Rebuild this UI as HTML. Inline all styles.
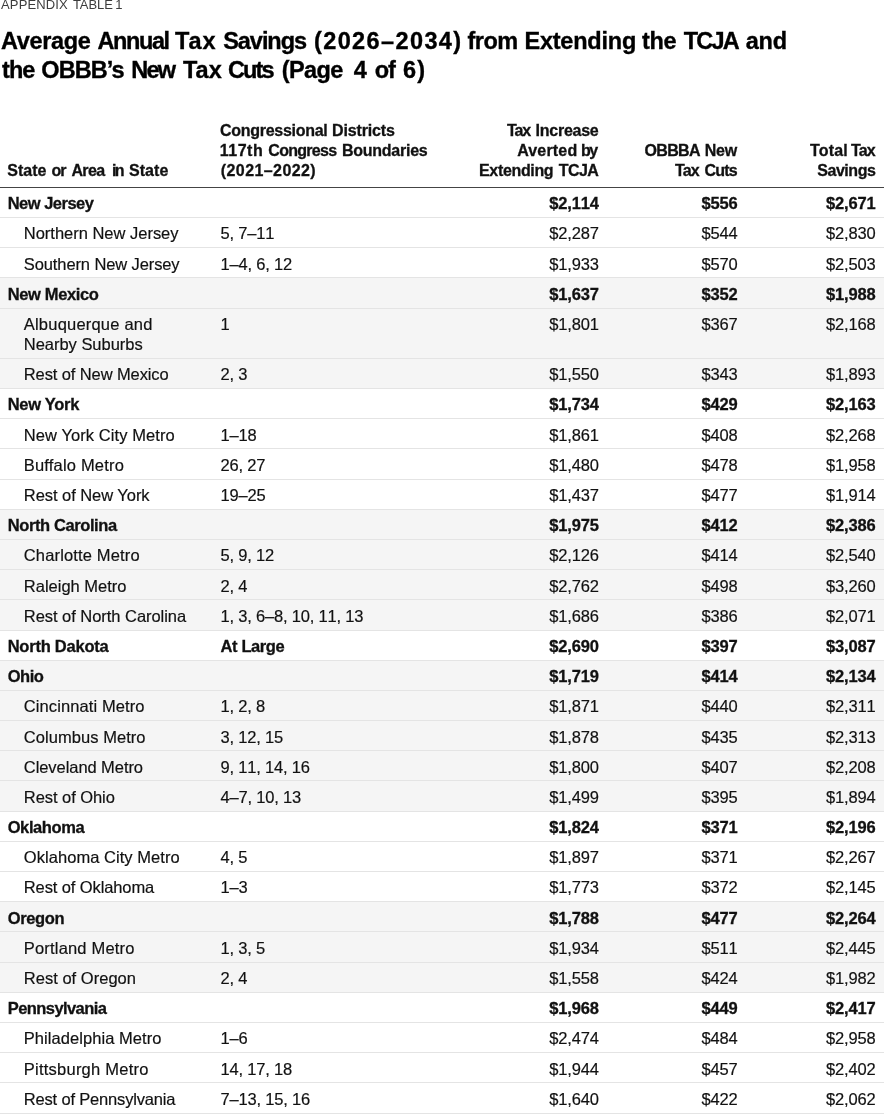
<!DOCTYPE html>
<html><head><meta charset="utf-8"><title>Appendix Table 1</title>
<style>
html,body{margin:0;padding:0;background:#fff;}
body{width:884px;height:1114px;overflow:hidden;position:relative;font-family:"Liberation Sans",sans-serif;color:#111;}
span{white-space:nowrap;}
.kicker{font-size:13px;color:#3c3c3c;}
.kw>span{bottom:-4.4px;line-height:16px;}
h1{margin:0;font-size:23.5px;font-weight:bold;color:#000;-webkit-text-stroke:0.35px #000;}
.head,.hc{font-weight:bold;font-size:16px;}
.wl{display:block;position:absolute;left:0;width:884px;height:0;white-space:nowrap;}
.wl>span{position:absolute;left:0;}
.tw>span{bottom:-7.4px;line-height:29px;}
.hw>span{bottom:-5.1px;line-height:20px;}
.hline{position:absolute;left:0;top:187px;width:884px;height:1px;background:#444;}
.tbody{position:absolute;left:0;top:187.8px;width:884px;}
.row{position:relative;height:29.19px;border-bottom:1px solid #e4e4e4;font-size:16.5px;line-height:20.13px;}
.row.two{height:49.32px;}
.row.g{background:#f5f5f5;}
.row.s{font-weight:bold;}
.row>div{position:absolute;top:5.4px;white-space:nowrap;}
.c1{left:7.7px;}
.row.r .c1{left:23.8px;}
.c2{left:220.6px;}
.c3{right:285px;text-align:right;}
.c4{right:146.3px;text-align:right;}
.c5{right:8.3px;text-align:right;}
.row .c2 span{letter-spacing:-0.2px;}
.row .c2,.row .c3,.row .c4,.row .c5{font-kerning:none;}
.row .c3 span,.row .c4 span,.row .c5 span{letter-spacing:-0.13px;margin-right:0.13px;}
.row{-webkit-text-stroke:0.18px #111;}
.head{-webkit-text-stroke:0.3px #111;}
.row.s{-webkit-text-stroke:0.3px #111;}

</style></head><body>
<div class="kicker"><div class="wl kw" style="top:9.00px"><span style="left:1.06px;letter-spacing:0.129px;">APPENDIX</span> <span style="left:72.94px;letter-spacing:-0.080px;">TABLE</span> <span style="left:115.30px;">1</span></div></div>
<h1><span class="wl tw" style="top:49.00px"><span style="left:1.03px;letter-spacing:-0.345px;">Average</span> <span style="left:97.57px;letter-spacing:-1.414px;">Annual</span> <span style="left:175.00px;letter-spacing:0.963px;">Tax</span> <span style="left:223.25px;letter-spacing:-1.060px;">Savings</span> <span style="left:314.00px;letter-spacing:1.386px;">(2026–2034)</span> <span style="left:467.41px;letter-spacing:-0.465px;">from</span> <span style="left:524.46px;letter-spacing:-0.219px;">Extending</span> <span style="left:642.00px;letter-spacing:-0.375px;">the</span> <span style="left:683.75px;letter-spacing:-1.766px;">TCJA</span> <span style="left:745.86px;letter-spacing:-0.326px;">and</span></span> <span class="wl tw" style="top:78.00px"><span style="left:2.00px;letter-spacing:-0.935px;">the</span> <span style="left:41.28px;letter-spacing:-0.911px;">OBBB’s</span> <span style="left:131.16px;letter-spacing:-1.665px;">New</span> <span style="left:182.90px;letter-spacing:0.030px;">Tax</span> <span style="left:228.00px;letter-spacing:-1.851px;">Cuts</span> <span style="left:281.64px;letter-spacing:-0.570px;">(Page</span> <span style="left:353.65px;">4</span> <span style="left:374.81px;letter-spacing:-1.123px;">of</span> <span style="left:403.01px;letter-spacing:1.279px;">6)</span></span></h1>
<div class="head"><div class="hc hc1"><div class="wl hw" style="top:175.50px"><span style="left:7.26px;">State</span> <span style="left:51.59px;letter-spacing:-1.086px;">or</span> <span style="left:71.43px;letter-spacing:-0.623px;">Area</span> <span style="left:112.12px;letter-spacing:-1.879px;">in</span> <span style="left:128.96px;letter-spacing:0.073px;">State</span></div></div><div class="hc hc2"><div class="wl hw" style="top:135.50px"><span style="left:220.07px;letter-spacing:-0.291px;">Congressional</span> <span style="left:332.00px;letter-spacing:-0.137px;">Districts</span></div><div class="wl hw" style="top:155.50px"><span style="left:219.70px;letter-spacing:0.533px;">117th</span> <span style="left:268.29px;letter-spacing:-0.702px;">Congress</span> <span style="left:342.00px;letter-spacing:-0.260px;">Boundaries</span></div><div class="wl hw" style="top:175.50px"><span style="left:220.75px;letter-spacing:0.419px;">(2021–2022)</span></div></div><div class="hc hc3"><div class="wl hw" style="top:135.50px"><span style="left:507.00px;letter-spacing:-1.151px;">Tax</span> <span style="left:535.51px;letter-spacing:-0.241px;">Increase</span></div><div class="wl hw" style="top:155.50px"><span style="left:517.14px;letter-spacing:0.184px;">Averted</span> <span style="left:581.00px;letter-spacing:-1.557px;">by</span></div><div class="wl hw" style="top:175.50px"><span style="left:479.00px;letter-spacing:-0.336px;">Extending</span> <span style="left:558.81px;letter-spacing:-0.601px;">TCJA</span></div></div><div class="hc hc4"><div class="wl hw" style="top:155.50px"><span style="left:644.49px;letter-spacing:-0.659px;">OBBBA</span> <span style="left:704.65px;letter-spacing:-0.152px;">New</span></div><div class="wl hw" style="top:175.50px"><span style="left:675.00px;letter-spacing:-0.901px;">Tax</span> <span style="left:704.50px;letter-spacing:-0.808px;">Cuts</span></div></div><div class="hc hc5"><div class="wl hw" style="top:155.50px"><span style="left:810.00px;letter-spacing:0.188px;">Total</span> <span style="left:851.00px;letter-spacing:-0.850px;">Tax</span></div><div class="wl hw" style="top:175.50px"><span style="left:817.26px;letter-spacing:-0.460px;">Savings</span></div></div></div>
<div class="hline"></div>
<div class="tbody">
<div class="row s"><div class="c1"><span style="letter-spacing:-0.509px;">New Jersey</span></div><div class="c2"></div><div class="c3"><span>$2,114</span></div><div class="c4"><span>$556</span></div><div class="c5"><span>$2,671</span></div></div>
<div class="row r"><div class="c1"><span style="letter-spacing:-0.013px;">Northern New Jersey</span></div><div class="c2"><span>5, 7–11</span></div><div class="c3"><span>$2,287</span></div><div class="c4"><span>$544</span></div><div class="c5"><span>$2,830</span></div></div>
<div class="row r"><div class="c1"><span style="letter-spacing:-0.107px;">Southern New Jersey</span></div><div class="c2"><span>1–4, 6, 12</span></div><div class="c3"><span>$1,933</span></div><div class="c4"><span>$570</span></div><div class="c5"><span>$2,503</span></div></div>
<div class="row s g"><div class="c1"><span style="letter-spacing:-0.356px;">New Mexico</span></div><div class="c2"></div><div class="c3"><span>$1,637</span></div><div class="c4"><span>$352</span></div><div class="c5"><span>$1,988</span></div></div>
<div class="row r g two"><div class="c1"><span style="letter-spacing:0.203px;">Albuquerque and</span><br><span style="letter-spacing:-0.028px;">Nearby Suburbs</span></div><div class="c2"><span>1</span></div><div class="c3"><span>$1,801</span></div><div class="c4"><span>$367</span></div><div class="c5"><span>$2,168</span></div></div>
<div class="row r g"><div class="c1"><span style="letter-spacing:-0.109px;">Rest of New Mexico</span></div><div class="c2"><span>2, 3</span></div><div class="c3"><span>$1,550</span></div><div class="c4"><span>$343</span></div><div class="c5"><span>$1,893</span></div></div>
<div class="row s"><div class="c1"><span style="letter-spacing:-0.277px;">New York</span></div><div class="c2"></div><div class="c3"><span>$1,734</span></div><div class="c4"><span>$429</span></div><div class="c5"><span>$2,163</span></div></div>
<div class="row r"><div class="c1"><span style="letter-spacing:0.078px;">New York City Metro</span></div><div class="c2"><span>1–18</span></div><div class="c3"><span>$1,861</span></div><div class="c4"><span>$408</span></div><div class="c5"><span>$2,268</span></div></div>
<div class="row r"><div class="c1"><span style="letter-spacing:0.183px;">Buffalo Metro</span></div><div class="c2"><span>26, 27</span></div><div class="c3"><span>$1,480</span></div><div class="c4"><span>$478</span></div><div class="c5"><span>$1,958</span></div></div>
<div class="row r"><div class="c1"><span style="letter-spacing:-0.050px;">Rest of New York</span></div><div class="c2"><span>19–25</span></div><div class="c3"><span>$1,437</span></div><div class="c4"><span>$477</span></div><div class="c5"><span>$1,914</span></div></div>
<div class="row s g"><div class="c1"><span style="letter-spacing:-0.395px;">North Carolina</span></div><div class="c2"></div><div class="c3"><span>$1,975</span></div><div class="c4"><span>$412</span></div><div class="c5"><span>$2,386</span></div></div>
<div class="row r g"><div class="c1"><span style="letter-spacing:0.150px;">Charlotte Metro</span></div><div class="c2"><span>5, 9, 12</span></div><div class="c3"><span>$2,126</span></div><div class="c4"><span>$414</span></div><div class="c5"><span>$2,540</span></div></div>
<div class="row r g"><div class="c1"><span>Raleigh Metro</span></div><div class="c2"><span>2, 4</span></div><div class="c3"><span>$2,762</span></div><div class="c4"><span>$498</span></div><div class="c5"><span>$3,260</span></div></div>
<div class="row r g"><div class="c1"><span style="letter-spacing:-0.041px;">Rest of North Carolina</span></div><div class="c2"><span>1, 3, 6–8, 10, 11, 13</span></div><div class="c3"><span>$1,686</span></div><div class="c4"><span>$386</span></div><div class="c5"><span>$2,071</span></div></div>
<div class="row s"><div class="c1"><span style="letter-spacing:-0.238px;">North Dakota</span></div><div class="c2"><span style="letter-spacing:-0.399px;">At Large</span></div><div class="c3"><span>$2,690</span></div><div class="c4"><span>$397</span></div><div class="c5"><span>$3,087</span></div></div>
<div class="row s g"><div class="c1"><span style="letter-spacing:-0.443px;">Ohio</span></div><div class="c2"></div><div class="c3"><span>$1,719</span></div><div class="c4"><span>$414</span></div><div class="c5"><span>$2,134</span></div></div>
<div class="row r g"><div class="c1"><span style="letter-spacing:0.097px;">Cincinnati Metro</span></div><div class="c2"><span>1, 2, 8</span></div><div class="c3"><span>$1,871</span></div><div class="c4"><span>$440</span></div><div class="c5"><span>$2,311</span></div></div>
<div class="row r g"><div class="c1"><span style="letter-spacing:0.053px;">Columbus Metro</span></div><div class="c2"><span>3, 12, 15</span></div><div class="c3"><span>$1,878</span></div><div class="c4"><span>$435</span></div><div class="c5"><span>$2,313</span></div></div>
<div class="row r g"><div class="c1"><span style="letter-spacing:-0.064px;">Cleveland Metro</span></div><div class="c2"><span>9, 11, 14, 16</span></div><div class="c3"><span>$1,800</span></div><div class="c4"><span>$407</span></div><div class="c5"><span>$2,208</span></div></div>
<div class="row r g"><div class="c1"><span style="letter-spacing:-0.055px;">Rest of Ohio</span></div><div class="c2"><span>4–7, 10, 13</span></div><div class="c3"><span>$1,499</span></div><div class="c4"><span>$395</span></div><div class="c5"><span>$1,894</span></div></div>
<div class="row s"><div class="c1"><span style="letter-spacing:-0.402px;">Oklahoma</span></div><div class="c2"></div><div class="c3"><span>$1,824</span></div><div class="c4"><span>$371</span></div><div class="c5"><span>$2,196</span></div></div>
<div class="row r"><div class="c1"><span style="letter-spacing:0.052px;">Oklahoma City Metro</span></div><div class="c2"><span>4, 5</span></div><div class="c3"><span>$1,897</span></div><div class="c4"><span>$371</span></div><div class="c5"><span>$2,267</span></div></div>
<div class="row r"><div class="c1"><span style="letter-spacing:-0.109px;">Rest of Oklahoma</span></div><div class="c2"><span>1–3</span></div><div class="c3"><span>$1,773</span></div><div class="c4"><span>$372</span></div><div class="c5"><span>$2,145</span></div></div>
<div class="row s g"><div class="c1"><span style="letter-spacing:-0.343px;">Oregon</span></div><div class="c2"></div><div class="c3"><span>$1,788</span></div><div class="c4"><span>$477</span></div><div class="c5"><span>$2,264</span></div></div>
<div class="row r g"><div class="c1"><span style="letter-spacing:0.185px;">Portland Metro</span></div><div class="c2"><span>1, 3, 5</span></div><div class="c3"><span>$1,934</span></div><div class="c4"><span>$511</span></div><div class="c5"><span>$2,445</span></div></div>
<div class="row r g"><div class="c1"><span style="letter-spacing:0.021px;">Rest of Oregon</span></div><div class="c2"><span>2, 4</span></div><div class="c3"><span>$1,558</span></div><div class="c4"><span>$424</span></div><div class="c5"><span>$1,982</span></div></div>
<div class="row s"><div class="c1"><span style="letter-spacing:-0.565px;">Pennsylvania</span></div><div class="c2"></div><div class="c3"><span>$1,968</span></div><div class="c4"><span>$449</span></div><div class="c5"><span>$2,417</span></div></div>
<div class="row r"><div class="c1"><span style="letter-spacing:0.056px;">Philadelphia Metro</span></div><div class="c2"><span>1–6</span></div><div class="c3"><span>$2,474</span></div><div class="c4"><span>$484</span></div><div class="c5"><span>$2,958</span></div></div>
<div class="row r"><div class="c1"><span style="letter-spacing:0.236px;">Pittsburgh Metro</span></div><div class="c2"><span>14, 17, 18</span></div><div class="c3"><span>$1,944</span></div><div class="c4"><span>$457</span></div><div class="c5"><span>$2,402</span></div></div>
<div class="row r"><div class="c1"><span style="letter-spacing:-0.172px;">Rest of Pennsylvania</span></div><div class="c2"><span>7–13, 15, 16</span></div><div class="c3"><span>$1,640</span></div><div class="c4"><span>$422</span></div><div class="c5"><span>$2,062</span></div></div>
</div>
</body></html>
